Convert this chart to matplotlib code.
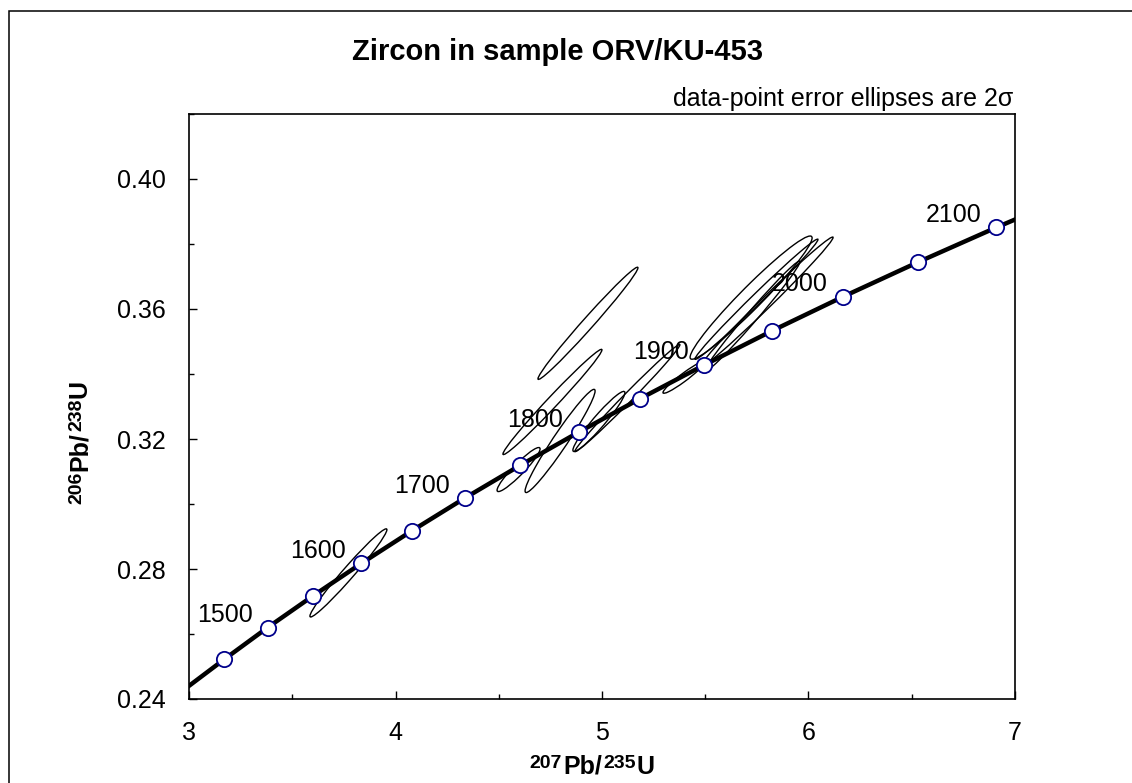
import numpy as np
import matplotlib
matplotlib.use("Agg")
import matplotlib.pyplot as plt
from matplotlib.patches import Ellipse, Rectangle
from matplotlib.ticker import MultipleLocator

plt.rcParams["font.family"] = ["Liberation Sans", "DejaVu Sans"]

# ----------------------------
# Concordia (Ma, 207Pb/235U, 206Pb/238U)
# ----------------------------
conc_age = [1400, 1450, 1500, 1550, 1600, 1650, 1700, 1750,
            1800, 1850, 1900, 1950, 2000, 2050, 2100, 2150]
conc_x = [2.970, 3.1705, 3.381, 3.602, 3.834, 4.078, 4.335, 4.604,
          4.887, 5.184, 5.496, 5.824, 6.168, 6.530, 6.910, 7.310]
conc_y = [0.2426, 0.2522, 0.2620, 0.2718, 0.2817, 0.2917, 0.3018, 0.3119,
          0.3221, 0.3324, 0.3428, 0.3533, 0.3638, 0.3744, 0.3851, 0.3959]
marker_ages = [1450, 1500, 1550, 1600, 1650, 1700, 1750, 1800,
               1850, 1900, 1950, 2000, 2050, 2100]
label_ages = [1500, 1600, 1700, 1800, 1900, 2000, 2100]

# ----------------------------
# Analyses: ratios, 2-sigma errors, error correlation
# ----------------------------
ell_x = [3.772, 4.596, 4.760, 4.932, 4.797, 4.985, 5.123, 5.397,
         5.722, 5.748, 5.797, 5.729]
ell_y = [0.2788, 0.3106, 0.3314, 0.3556, 0.3194, 0.3254, 0.3326, 0.3390,
         0.3635, 0.3630, 0.3621, 0.3578]
ell_sx = [0.1864, 0.1041, 0.2397, 0.2421, 0.1695, 0.1259, 0.2542, 0.1017,
          0.2954, 0.2978, 0.3220, 0.2300]
ell_sy = [0.01356, 0.00678, 0.01619, 0.01726, 0.01588, 0.00925, 0.01649, 0.00493,
          0.01896, 0.01850, 0.02004, 0.01696]
ell_rho = [0.980, 0.937, 0.989, 0.989, 0.968, 0.954, 0.993, 0.954,
           0.968, 0.993, 0.993, 0.989]

W, H = 1132, 783


def isotope_label(fig, cx, cy, mass1, el1, mass2, el2, rotation=0):
    # draw a label like 207Pb/235U piece by piece, centred on (cx, cy) px
    pieces = [(mass1, 14, 6), (el1 + "/", 18, 0), (mass2, 14, 6), (el2, 18, 0)]
    gap = 1
    r = fig.canvas.get_renderer()
    widths = []
    for s, size, rise in pieces:
        t = fig.text(0, 0, s, fontsize=size, fontweight="bold")
        widths.append(t.get_window_extent(r).width)
        t.remove()
    total = sum(widths) + gap * (len(pieces) - 1)
    pos = -total / 2
    for (s, size, rise), w in zip(pieces, widths):
        if rotation == 0:
            x, y = cx + pos, cy + rise
        else:
            x, y = cx - rise, cy + pos
        fig.text(x / W, y / H, s, fontsize=size, fontweight="bold",
                 ha="left", va="baseline", rotation=rotation,
                 rotation_mode="anchor")
        pos += w + gap


# ----------------------------
# Figure
# ----------------------------
fig = plt.figure(figsize=(11.32, 7.83), dpi=100)
fig.patches.append(Rectangle((9 / W, -0.1), 1.2, 1.1 - 10.7 / H,
                             transform=fig.transFigure, fill=False,
                             edgecolor="black", linewidth=1.1))

ax = fig.add_axes([189 / W, 1 - 699 / H, 826 / W, 585 / H])

for x, y, sx, sy, r in zip(ell_x, ell_y, ell_sx, ell_sy, ell_rho):
    cov = np.array([[sx ** 2, r * sx * sy], [r * sx * sy, sy ** 2]])
    vals, vecs = np.linalg.eigh(cov)
    angle = np.degrees(np.arctan2(vecs[1, 1], vecs[0, 1]))
    ax.add_patch(Ellipse((x, y), 2 * np.sqrt(vals[1]), 2 * np.sqrt(vals[0]),
                         angle=angle, fill=False, edgecolor="black",
                         linewidth=1.0, zorder=2))

ax.plot(conc_x, conc_y, color="black", linewidth=3.2, zorder=3,
        solid_capstyle="butt")

mx = [conc_x[conc_age.index(a)] for a in marker_ages]
my = [conc_y[conc_age.index(a)] for a in marker_ages]
ax.plot(mx, my, linestyle="none", marker="o", markersize=11,
        markerfacecolor="white", markeredgecolor="#00008B",
        markeredgewidth=1.3, zorder=4)

for a in label_ages:
    i = conc_age.index(a)
    ax.annotate(str(a), (conc_x[i], conc_y[i]), xytext=(-11, 4),
                textcoords="offset points", ha="right", va="baseline",
                fontsize=18, zorder=5)

ax.set_xlim(3, 7)
ax.set_ylim(0.24, 0.42)
ax.xaxis.set_major_locator(MultipleLocator(1))
ax.xaxis.set_minor_locator(MultipleLocator(0.5))
ax.yaxis.set_major_locator(MultipleLocator(0.04))
ax.yaxis.set_minor_locator(MultipleLocator(0.02))
ax.yaxis.set_major_formatter(plt.FuncFormatter(lambda v, p: f"{v:.2f}"))
ax.tick_params(which="both", direction="in", width=1.0, labelsize=18)
ax.tick_params(axis="x", which="major", length=5.5, pad=16)
ax.tick_params(axis="x", which="minor", length=3.8)
ax.tick_params(axis="y", which="major", length=5.5, pad=17)
ax.tick_params(axis="y", which="minor", length=3.8)
for s in ax.spines.values():
    s.set_linewidth(1.2)

fig.text(558 / W, 1 - 60 / H, "Zircon in sample ORV/KU-453",
         ha="center", va="baseline", fontsize=21, fontweight="bold")
fig.text(1013 / W, 1 - 106 / H, "data-point error ellipses are 2\u03c3",
         ha="right", va="baseline", fontsize=18)

isotope_label(fig, 592, H - 774, "207", "Pb", "235", "U")
isotope_label(fig, 87, H - 442, "206", "Pb", "238", "U", rotation=90)

fig.savefig("out.png", dpi=100)
